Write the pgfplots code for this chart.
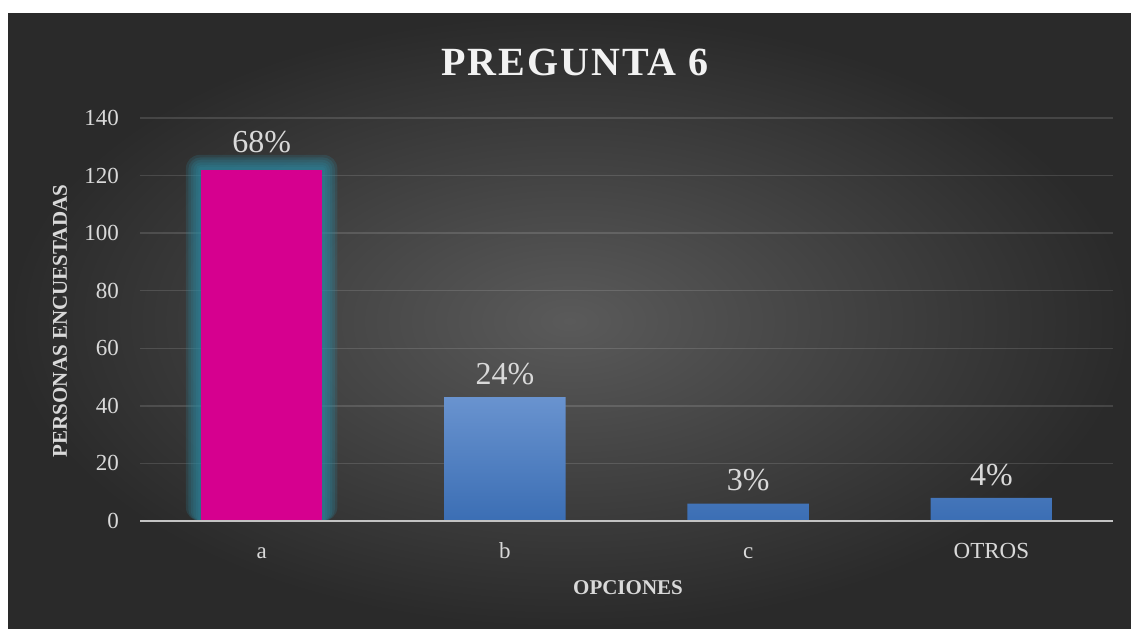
\documentclass[border=0pt]{standalone}
\usepackage{pgfplots}
\pgfplotsset{compat=1.18}
\usepackage{fontspec}
\setmainfont{Liberation Serif}
\definecolor{bgin}{HTML}{5A5A5A}
\definecolor{bgout}{HTML}{2A2A2A}
\definecolor{rosa}{HTML}{D6008F}
\definecolor{brillo}{HTML}{2C8AA3}
\definecolor{azularr}{HTML}{6993CF}
\definecolor{azulab}{HTML}{3B6EB4}
\definecolor{txt}{HTML}{D9D9D9}
\begin{document}
\begin{tikzpicture}
% fondo
\fill[white] (0,0) rectangle (565.5pt,314pt);
\shade[inner color=bgin, outer color=bgout] (4pt,0) rectangle (565.5pt,307pt);

\begin{axis}[
  at={(70pt,53.5pt)}, anchor=south west,
  scale only axis,
  width=486.5pt, height=201.5pt,
  xmin=-0.5, xmax=3.5,
  ymin=0, ymax=140,
  ytick={0,20,...,140},
  xtick={0,1,2,3},
  xticklabels={a,b,c,OTROS},
  axis x line*=bottom, axis y line*=left,
  x axis line style={draw=none},
  y axis line style={draw=none},
  major tick length=0pt,
  ymajorgrids,
  grid style={white, opacity=0.13, line width=0.75pt},
  tick label style={txt},
  yticklabel style={font=\fontsize{11.5}{12}\selectfont, xshift=-7pt},
  xticklabel style={font=\fontsize{11.5}{12}\selectfont, text height=8pt, text depth=2pt, yshift=-7pt},
  /pgf/number format/assume math mode=true,
  bar width=0.5,
  glow/.style={ybar, bar shift=0pt, draw=none, fill=brillo, opacity=0.2},
]
% brillo de la barra a
\addplot[glow, bar width=0.623, rounded corners=7pt] coordinates {(0,127.2)};
\addplot[glow, bar width=0.603, rounded corners=6pt] coordinates {(0,126.3)};
\addplot[glow, bar width=0.582, rounded corners=5pt] coordinates {(0,125.5)};
\addplot[glow, bar width=0.562, rounded corners=4pt] coordinates {(0,124.6)};
\addplot[glow, bar width=0.541, rounded corners=2.5pt] coordinates {(0,123.7)};
\addplot[glow, bar width=0.521, rounded corners=1pt] coordinates {(0,122.9)};
% barras
\addplot[ybar, bar shift=0pt, draw=none, fill=rosa,
  nodes near coords, point meta=explicit symbolic,
  every node near coord/.append style={font=\fontsize{16}{18}\selectfont, txt, anchor=south, yshift=8pt, inner sep=0pt}]
  coordinates {(0,122) [68\%]};
\addplot[ybar, bar shift=0pt, draw=none, top color=azularr, bottom color=azulab,
  nodes near coords, point meta=explicit symbolic,
  every node near coord/.append style={font=\fontsize{16}{18}\selectfont, txt, anchor=south, yshift=6pt, inner sep=0pt}]
  coordinates {(1,43) [24\%] (2,6) [3\%] (3,8) [4\%]};
\draw[color=txt!90!black, line width=1pt] (axis cs:-0.5,0) -- (axis cs:3.5,0);
\end{axis}

\node[color=white!95!black, font=\fontsize{20}{24}\selectfont\bfseries\addfontfeatures{LetterSpace=5}] at (287.5pt,283pt) {PREGUNTA 6};
\node[txt, rotate=90, font=\fontsize{10.5}{12}\selectfont\bfseries] at (30pt,153.5pt) {PERSONAS ENCUESTADAS};
\node[txt, font=\fontsize{10.5}{12}\selectfont\bfseries] at (314pt,20pt) {OPCIONES};

\pgfresetboundingbox
\path[use as bounding box] (0,0) rectangle (565.5pt,314pt);
\end{tikzpicture}
\end{document}
